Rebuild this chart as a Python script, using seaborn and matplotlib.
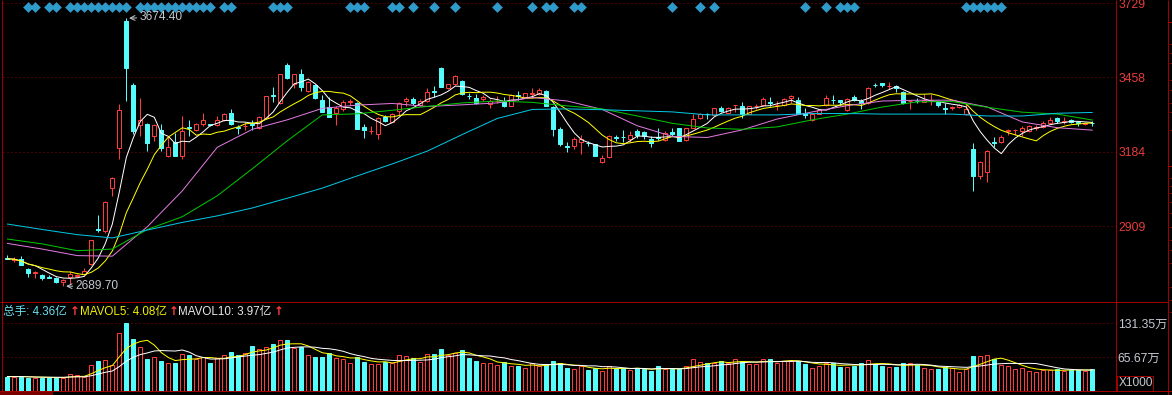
import numpy as np
import pandas as pd
import matplotlib
matplotlib.use("Agg")
import matplotlib.pyplot as plt
import seaborn as sns
from matplotlib.lines import Line2D
from matplotlib.patches import Rectangle
from matplotlib.transforms import blended_transform_factory

# daily candles (index 0 = leftmost candle)
opens = [
    2792, 2786, 2790, 2753, 2739, 2732, 2722, 2721, 2705, 2725,
    2728, 2734, 2771, 2899, 2891, 3049, 3196, 3665, 3429, 3283,
    3287, 3242, 3263, 3169, 3221, 3169, 3274, 3263, 3287, 3285,
    3283, 3301, 3326, 3274, 3278, 3284, 3270, 3309, 3393, 3361,
    3503, 3434, 3471, 3407, 3429, 3373, 3348, 3327, 3340, 3367,
    3364, 3275, 3259, 3250, 3312, 3294, 3334, 3369, 3379, 3355,
    3370, 3406, 3493, 3416, 3432, 3444, 3390, 3380, 3377, 3358,
    3369, 3368, 3352, 3392, 3386, 3396, 3396, 3407, 3348, 3267,
    3204, 3203, 3221, 3216, 3211, 3147, 3166, 3237, 3239, 3230,
    3258, 3257, 3232, 3237, 3226, 3257, 3270, 3226, 3272, 3309,
    3323, 3319, 3344, 3327, 3354, 3350, 3324, 3351, 3356, 3365,
    3355, 3355, 3380, 3373, 3327, 3300, 3324, 3355, 3374, 3373,
    3336, 3385, 3370, 3364, 3430, 3435, 3424, 3425, 3403, 3369,
    3371, 3368, 3372, 3368, 3343, 3345, 3348, 3322, 3195, 3095,
    3111, 3218, 3220, 3258, 3263, 3260, 3260, 3271, 3275, 3291,
    3309, 3293, 3301, 3292, 3286, 3290,
]
highs = [
    2803, 2796, 2802, 2756, 2745, 2734, 2732, 2723, 2716, 2747,
    2736, 2756, 2861, 2952, 3002, 3089, 3358, 3674.4, 3438, 3380,
    3290, 3287, 3285, 3242, 3254, 3315, 3301, 3290, 3327, 3287,
    3315, 3327, 3340, 3283, 3292, 3300, 3314, 3390, 3422, 3470,
    3511, 3470, 3487, 3443, 3432, 3391, 3383, 3350, 3372, 3378,
    3366, 3285, 3280, 3310, 3318, 3326, 3366, 3386, 3386, 3378,
    3417, 3425, 3495, 3434, 3466, 3446, 3400, 3397, 3392, 3376,
    3390, 3383, 3397, 3407, 3401, 3417, 3419, 3409, 3350, 3275,
    3220, 3236, 3246, 3224, 3213, 3170, 3246, 3246, 3264, 3258,
    3268, 3260, 3240, 3270, 3258, 3272, 3272, 3272, 3322, 3327,
    3326, 3346, 3350, 3348, 3357, 3367, 3352, 3359, 3383, 3385,
    3370, 3381, 3391, 3385, 3345, 3326, 3338, 3391, 3391, 3375,
    3381, 3392, 3377, 3420, 3437, 3437, 3441, 3427, 3405, 3372,
    3380, 3395, 3395, 3370, 3361, 3353, 3360, 3358, 3217, 3149,
    3189, 3238, 3246, 3269, 3267, 3279, 3283, 3281, 3297, 3310,
    3311, 3310, 3305, 3298, 3292, 3298,
]
lows = [
    2790, 2779, 2768, 2725, 2718, 2712, 2720, 2702, 2689.7, 2698,
    2724, 2732, 2768, 2887, 2886, 3022, 3156, 3370, 3250, 3242,
    3187, 3224, 3187, 3165, 3167, 3158, 3240, 3260, 3280, 3278,
    3280, 3296, 3283, 3250, 3265, 3265, 3268, 3306, 3367, 3358,
    3450, 3419, 3405, 3403, 3378, 3329, 3310, 3282, 3334, 3356,
    3267, 3234, 3250, 3231, 3293, 3292, 3320, 3350, 3355, 3352,
    3365, 3383, 3421, 3414, 3429, 3393, 3378, 3360, 3370, 3346,
    3364, 3348, 3350, 3375, 3384, 3380, 3392, 3350, 3242, 3205,
    3183, 3192, 3177, 3206, 3167, 3142, 3162, 3224, 3220, 3220,
    3235, 3231, 3202, 3225, 3222, 3242, 3222, 3224, 3270, 3303,
    3305, 3317, 3331, 3325, 3330, 3307, 3322, 3341, 3352, 3352,
    3337, 3353, 3362, 3322, 3307, 3298, 3322, 3353, 3360, 3356,
    3334, 3371, 3342, 3360, 3421, 3421, 3414, 3404, 3359, 3342,
    3361, 3366, 3354, 3349, 3322, 3337, 3346, 3320, 3040, 3083,
    3071, 3202, 3217, 3246, 3246, 3243, 3257, 3263, 3272, 3285,
    3290, 3285, 3291, 3280, 3282, 3280,
]
closes = [
    2790, 2788, 2768, 2738, 2741, 2721, 2720, 2704, 2712, 2736,
    2731, 2746, 2859, 2896, 3000, 3087, 3336, 3493, 3258, 3301,
    3217, 3282, 3199, 3202, 3169, 3260, 3271, 3285, 3301, 3283,
    3301, 3322, 3287, 3272, 3280, 3282, 3312, 3388, 3390, 3468,
    3454, 3468, 3422, 3441, 3380, 3331, 3312, 3346, 3368, 3369,
    3269, 3263, 3261, 3307, 3297, 3324, 3364, 3379, 3364, 3370,
    3403, 3404, 3423, 3432, 3462, 3395, 3388, 3364, 3383, 3370,
    3371, 3352, 3391, 3390, 3399, 3398, 3409, 3352, 3267, 3212,
    3202, 3230, 3230, 3214, 3169, 3162, 3242, 3235, 3237, 3245,
    3246, 3242, 3214, 3235, 3254, 3250, 3224, 3270, 3303, 3322,
    3321, 3344, 3334, 3346, 3356, 3322, 3350, 3353, 3377, 3363,
    3357, 3379, 3389, 3324, 3319, 3324, 3336, 3380, 3372, 3367,
    3379, 3373, 3361, 3417, 3428, 3428, 3426, 3416, 3361, 3371,
    3369, 3373, 3374, 3356, 3341, 3347, 3355, 3342, 3095, 3147,
    3187, 3216, 3238, 3264, 3265, 3272, 3279, 3273, 3291, 3300,
    3297, 3295, 3294, 3290, 3289, 3288,
]
# volume in 万 (axis shows x1000)
volumes = [
    28.0, 28.0, 28.0, 26.0, 26.0, 26.0, 26.0, 26.0, 26.0, 32.6,
    30.7, 27.4, 50.7, 58.5, 59.8, 50.7, 112.3, 131.35, 101.8, 85.1,
    62.4, 65.7, 58.5, 54.0, 55.2, 71.5, 70.1, 61.8, 66.8, 55.2,
    63.7, 70.1, 76.6, 70.1, 73.4, 88.2, 81.8, 85.1, 91.5, 99.3,
    99.9, 83.2, 85.1, 70.1, 66.8, 66.8, 73.4, 64.9, 62.4, 54.0,
    66.8, 57.1, 52.0, 52.7, 56.0, 55.2, 70.1, 68.2, 63.7, 57.1,
    72.1, 72.1, 81.8, 70.1, 73.4, 79.9, 64.9, 58.5, 54.0, 54.0,
    50.7, 57.1, 48.8, 48.8, 44.3, 54.0, 48.8, 52.7, 58.5, 54.0,
    44.3, 42.4, 48.8, 41.0, 44.3, 39.1, 48.8, 44.3, 44.3, 41.0,
    44.3, 42.4, 39.6, 48.8, 42.4, 42.4, 42.4, 48.8, 61.8, 56.0,
    54.0, 54.0, 58.5, 54.0, 61.8, 58.5, 52.7, 52.7, 61.8, 62.4,
    55.2, 58.5, 58.5, 58.5, 52.7, 44.3, 48.8, 55.2, 54.0, 47.4,
    46.8, 49.4, 55.2, 60.9, 52.7, 48.8, 46.2, 46.8, 55.2, 54.0,
    50.7, 44.3, 42.9, 42.9, 46.2, 44.3, 37.1, 42.4, 68.2, 68.2,
    70.1, 61.8, 50.7, 48.8, 42.9, 45.5, 39.5, 37.6, 40.9, 40.9,
    42.8, 39.5, 40.9, 40.9, 39.5, 43.6,
]

# longer averages every 5th candle
ma_step = 5
ma20_pts = [2847, 2826, 2802, 2800, 2908, 3040, 3200, 3266, 3301, 3343,
            3355, 3361, 3350, 3356, 3363, 3383, 3370, 3339, 3279, 3240,
            3236, 3264, 3304, 3330, 3353, 3370, 3373, 3373, 3348, 3293,
            3272, 3263]
ma30_pts = [2863, 2845, 2820, 2826, 2898, 2945, 3022, 3121, 3224, 3319,
            3323, 3336, 3350, 3363, 3370, 3365, 3352, 3341, 3315, 3288,
            3271, 3266, 3275, 3301, 3322, 3348, 3367, 3368, 3347, 3329,
            3322, 3300]
ma60_pts = [2918, 2898, 2879, 2867, 2896, 2924, 2948, 2977, 3013, 3050,
            3095, 3139, 3186, 3247, 3306, 3339, 3341, 3338, 3334, 3330,
            3319, 3319, 3319, 3324, 3324, 3322, 3322, 3322, 3315, 3315,
            3325, 3328]

signal_days = [3, 4, 6, 7, 9, 10, 11, 12, 13, 14, 15, 16, 17,
               19, 20, 21, 22, 23, 24, 25, 26, 27, 28, 29, 31, 32,
               38, 39, 40, 49, 50, 51, 55, 56, 58, 61, 64, 70, 75, 77, 78,
               81, 82, 95, 99, 101, 114, 117, 119, 120, 121,
               137, 138, 139, 140, 141, 142]

price_ticks = [2909, 3184, 3458, 3729]
vol_ticks = [65.67, 131.35]
vol_tick_labels = ["65.67万", "131.35万"]
legend_parts = [("总手: 4.36亿", "#66E0F0"), ("MAVOL5: 4.08亿", "#F0F000"),
                ("MAVOL10: 3.97亿", "#E8E8E8")]
legend_arrow = "↑"

W, H = 1172, 395
PX = 0.72
BAR_W = 4 / 7
RED = "#FF3C3C"
CYAN = "#54FCFC"
BORDER = "#A00000"
GRID = "#8C0000"
GREY = "#C4C8D0"


def fig_line(fig, x0, y0, x1, y1, color=BORDER, width=1.0):
    fig.add_artist(Line2D([x0 / W, x1 / W], [1 - y0 / H, 1 - y1 / H],
                          color=color, lw=width * PX, solid_capstyle="butt"))


def draw_candles(ax, o, h, l, c):
    x = np.arange(len(c))
    up = c >= o
    top = np.maximum(o, c)
    bot = np.minimum(o, c)
    colors = np.where(up, RED, CYAN)
    ax.vlines(x, top, h, colors=colors, lw=PX, zorder=2)
    ax.vlines(x, l, bot, colors=colors, lw=PX, zorder=2)
    ax.bar(x[up], (top - bot)[up], bottom=bot[up], width=BAR_W,
           facecolor="black", edgecolor=RED, lw=PX, zorder=2)
    ax.bar(x[~up], (top - bot)[~up], bottom=bot[~up], width=BAR_W,
           facecolor=CYAN, edgecolor=CYAN, lw=PX, zorder=2)
    return up


def style_axis(ax, ylim):
    ax.set_facecolor("black")
    ax.set_xlim(-0.686, 158.31)
    ax.set_ylim(*ylim)
    ax.set_xticks([])
    ax.set_xlabel("")
    ax.set_ylabel("")
    for spine in ax.spines.values():
        spine.set_visible(False)
    ax.yaxis.tick_right()
    ax.grid(False)
    ax.yaxis.grid(True, color=GRID, linestyle=(0, (1, 3)), linewidth=PX)


def main():
    sns.set_theme(style="dark", rc={"axes.facecolor": "black",
                                    "figure.facecolor": "black"})
    plt.rcParams["font.family"] = ["Liberation Sans", "Noto Sans CJK SC",
                                   "DejaVu Sans"]

    o = np.array(opens, float)
    h = np.array(highs, float)
    l = np.array(lows, float)
    c = np.array(closes, float)
    v = np.array(volumes, float)
    idx = np.arange(len(c))

    fig = plt.figure(figsize=(W / 100, H / 100), dpi=100)
    fig.patch.set_facecolor("black")
    ax = fig.add_axes([2.5 / W, 1 - 302.3 / H, 1113 / W, 302.3 / H])
    axv = fig.add_axes([2.5 / W, 1 - 391 / H, 1113 / W, (391 - 302.3) / H])

    # price panel
    up = draw_candles(ax, o, h, l, c)
    close_s = pd.Series(c)
    sns.lineplot(x=idx, y=close_s.rolling(5, min_periods=1).mean().values,
                 ax=ax, color="#FFFFFF", lw=PX, zorder=3)
    sns.lineplot(x=idx, y=close_s.rolling(10, min_periods=1).mean().values,
                 ax=ax, color="#FFFF00", lw=PX, zorder=3)
    step_x = idx[::ma_step]
    sns.lineplot(x=step_x, y=ma20_pts, ax=ax, color="#E07AE0", lw=PX, zorder=3)
    sns.lineplot(x=step_x, y=ma30_pts, ax=ax, color="#00C800", lw=PX, zorder=3)
    sns.lineplot(x=step_x, y=ma60_pts, ax=ax, color="#00C8E6", lw=PX, zorder=3)

    trans = blended_transform_factory(ax.transData, ax.transAxes)
    ax.scatter(signal_days, np.full(len(signal_days), 1 - 7.3 / 302.3),
               transform=trans, marker="D", s=30, color="#2E9BCB",
               linewidths=0, zorder=4, clip_on=False)

    hi = int(np.argmax(h))
    lo = int(np.argmin(l))
    arrow = dict(arrowstyle="->", color=GREY, lw=PX, shrinkA=0, shrinkB=0)
    ax.annotate(f"{h[hi]:.2f}", xy=(hi + 0.4, h[hi]), xytext=(hi + 1.95, h[hi] + 4),
                ha="left", va="center", color=GREY, fontsize=8.6,
                arrowprops=arrow, zorder=5)
    ax.annotate(f"{l[lo]:.2f}", xy=(lo + 0.4, l[lo]), xytext=(lo + 1.8, l[lo]),
                ha="left", va="center", color=GREY, fontsize=8.6,
                arrowprops=arrow, zorder=5)

    style_axis(ax, (2630.5, 3741.1))
    ax.set_yticks(price_ticks)
    ax.set_yticklabels([str(t) for t in price_ticks])
    ax.tick_params(axis="y", length=0, pad=2.4, labelsize=8.8,
                   labelcolor="#E83C3C")

    # volume panel
    axv.bar(idx[up], v[up], width=BAR_W, facecolor="black", edgecolor=RED,
            lw=PX, zorder=2)
    axv.bar(idx[~up], v[~up], width=BAR_W, facecolor=CYAN, edgecolor=CYAN,
            lw=PX, zorder=2)
    vol_s = pd.Series(v)
    sns.lineplot(x=idx, y=vol_s.rolling(5, min_periods=1).mean().values,
                 ax=axv, color="#FFFF00", lw=PX, zorder=3)
    sns.lineplot(x=idx, y=vol_s.rolling(10, min_periods=1).mean().values,
                 ax=axv, color="#FFFFFF", lw=PX, zorder=3)
    style_axis(axv, (0, 172.5))
    axv.set_yticks(vol_ticks)
    axv.set_yticklabels(vol_tick_labels)
    axv.tick_params(axis="y", length=0, pad=1.6, labelsize=8.8, labelcolor=GREY)

    text_x = [3, 80, 178]
    arrow_x = [75, 173.5, 279]
    for (txt, col), tx, axx in zip(legend_parts, text_x, arrow_x):
        fig.text(tx / W, 1 - 311.7 / H, txt, color=col, fontsize=8.4,
                 ha="left", va="center")
        fig.text(axx / W, 1 - 311.5 / H, legend_arrow, color=RED, fontsize=8.5,
                 fontweight="bold", family=["DejaVu Sans"],
                 ha="center", va="center")

    # frame lines
    fig_line(fig, 2.2, 0, 2.2, 391)
    fig_line(fig, 1115.6, 0, 1115.6, 391)
    fig_line(fig, 1168.4, 0, 1168.4, 395)
    fig_line(fig, 0, 302.3, 1168.4, 302.3)
    fig_line(fig, 0, 390.8, 1172, 390.8)
    for y in [22, 166]:
        fig_line(fig, 1168.4, y, 1172, y)
    for y in [44, 53, 63, 80, 90, 103, 112, 130, 178, 186, 193, 202, 213,
              227, 240, 250, 263, 287, 300, 312]:
        fig_line(fig, 1170, y, 1172, y)
    fig.add_artist(Rectangle((0, 0), 53 / W, 4 / H, transform=fig.transFigure,
                             facecolor="#7A0000", edgecolor="none"))
    fig.add_artist(Rectangle((1116.7 / W, 1 - 390.7 / H), 36 / W, 14.7 / H,
                             transform=fig.transFigure, fill=False,
                             edgecolor=BORDER, lw=PX))
    fig.text(1118.5 / W, 1 - 383.5 / H, "X1000", color=GREY, fontsize=8.6,
             ha="left", va="center")

    fig.savefig("out.png", dpi=100, facecolor="black")


if __name__ == "__main__":
    main()
